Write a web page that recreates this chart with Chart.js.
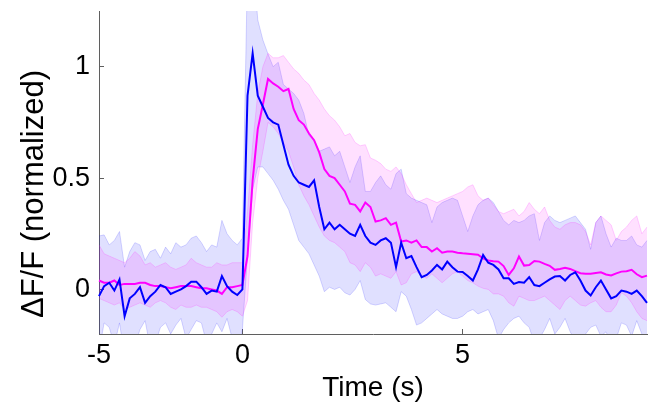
<!DOCTYPE html>
<html>
<head>
<meta charset="utf-8">
<title>Respuesta ΔF/F</title>
<script src="https://cdn.jsdelivr.net/npm/chart.js@4.4.0/dist/chart.umd.min.js"></script>
<style>
  html, body { margin: 0; padding: 0; background: #fff; }
  #contenedor { width: 651px; height: 412px; }
</style>
</head>
<body>
<div id="contenedor"><canvas id="grafico" width="651" height="412"></canvas></div>
<script>
// Muestreo: 28 cuadros en los 5 s previos al estímulo, 43 cuadros cada 5 s después
const preSeg = 5;
const preCuadros = 28;
const postCuadros = 80;
const postCuadrosPor5s = 43;

const xTicks = [-5, 0, 5];
const yTicks = [0, 0.5, 1];

// Promedio y banda (superior / inferior) de cada grupo
const azulMedia = [
  -0.03, 0.015, 0.03, -0.005, 0.045, -0.12, -0.04, -0.02, 0.01, -0.06,
  -0.03, -0.01, 0.02, 0.01, -0.02, -0.01, 0.0, 0.015, 0.035, 0.035,
  0.01, -0.02, -0.005, -0.01, 0.06, 0.015, -0.01, -0.025, 0.0, 0.87,
  1.06, 0.87, 0.82, 0.77, 0.75, 0.74, 0.65, 0.56, 0.51, 0.48,
  0.47, 0.46, 0.49, 0.37, 0.27, 0.30, 0.27, 0.29, 0.27, 0.25,
  0.24, 0.29, 0.24, 0.21, 0.20, 0.22, 0.23, 0.21, 0.10, 0.21,
  0.14, 0.15, 0.10, 0.055, 0.065, 0.085, 0.11, 0.09, 0.125, 0.10,
  0.08, 0.078, 0.06, 0.04, 0.09, 0.155, 0.12, 0.11, 0.09, 0.05,
  0.05, 0.025, 0.033, 0.03, 0.055, 0.02, 0.015, 0.03, 0.045, 0.058,
  0.06, 0.04, 0.065, 0.077, 0.04, -0.005, -0.027, 0.01, 0.04, 0.0,
  -0.04, -0.03, -0.005, -0.01, -0.02, -0.005, -0.03, -0.06
];
const azulSup = [
  0.24, 0.245, 0.20, 0.22, 0.26, 0.10, 0.17, 0.21, 0.20, 0.13,
  0.17, 0.18, 0.14, 0.19, 0.16, 0.21, 0.19, 0.20, 0.23, 0.24,
  0.21, 0.17, 0.20, 0.19, 0.31, 0.25, 0.22, 0.20, 0.23, 1.45,
  1.5, 1.21, 1.12, 1.057, 1.0, 1.02, 0.92, 0.90, 0.88, 0.85,
  0.79, 0.69, 0.67, 0.62, 0.63, 0.64, 0.60, 0.62, 0.55, 0.48,
  0.55, 0.60, 0.44, 0.44, 0.48, 0.51, 0.47, 0.45, 0.52, 0.54,
  0.43, 0.41, 0.40, 0.39, 0.38, 0.30, 0.37, 0.39, 0.40, 0.41,
  0.40, 0.33, 0.26, 0.33, 0.38, 0.40, 0.41, 0.39, 0.35, 0.31,
  0.29, 0.31, 0.30, 0.31, 0.33, 0.34, 0.22, 0.30, 0.33, 0.31,
  0.30, 0.31, 0.32, 0.33, 0.30, 0.27, 0.18, 0.30, 0.33, 0.25,
  0.19, 0.23, 0.22, 0.22, 0.24, 0.20, 0.19, 0.22
];
const azulInf = [
  -0.28, -0.15, -0.17, -0.25, -0.15, -0.30, -0.32, -0.25, -0.18, -0.14,
  -0.26, -0.24, -0.17, -0.15, -0.20, -0.16, -0.13, -0.22, -0.18, -0.14,
  -0.15, -0.24, -0.20, -0.15, -0.19, -0.13, -0.22, -0.30, -0.18, 0.15,
  0.45, 0.55, 0.55, 0.52, 0.49, 0.45, 0.40, 0.36, 0.29, 0.22,
  0.19, 0.16, 0.11, 0.06, -0.01, 0.01, 0.0, 0.01, -0.015, -0.025,
  0.0, 0.04, -0.045, -0.065, -0.07, -0.065, -0.06, -0.08, -0.10, -0.01,
  -0.03, -0.09, -0.16, -0.15, -0.13, -0.11, -0.09, -0.11, -0.12, -0.13,
  -0.13, -0.12, -0.10, -0.09, -0.11, -0.10, -0.09, -0.14, -0.22, -0.18,
  -0.15, -0.13, -0.12, -0.15, -0.17, -0.24, -0.22, -0.18, -0.13, -0.20,
  -0.17, -0.13, -0.19, -0.23, -0.26, -0.20, -0.17, -0.16, -0.21, -0.19,
  -0.24, -0.22, -0.15, -0.16, -0.21, -0.14, -0.20, -0.23
];
const magentaMedia = [
  0.04, 0.03, 0.03, 0.04, 0.02, 0.025, 0.025, 0.025, 0.03, 0.03,
  0.02, 0.015, 0.015, 0.01, 0.005, 0.01, 0.015, 0.015, 0.015, 0.01,
  0.005, 0.005, 0.0, -0.005, -0.02, 0.01, 0.01, 0.015, 0.02, 0.15,
  0.49, 0.72, 0.83, 0.945, 0.925, 0.91, 0.89, 0.90, 0.81, 0.76,
  0.74, 0.70, 0.67, 0.615, 0.54, 0.51, 0.50, 0.47, 0.44, 0.385,
  0.38, 0.35, 0.39, 0.37, 0.305, 0.31, 0.32, 0.29, 0.30, 0.215,
  0.22, 0.21, 0.22, 0.19, 0.19, 0.17, 0.185, 0.165, 0.17, 0.17,
  0.165, 0.162, 0.16, 0.158, 0.156, 0.14, 0.13, 0.127, 0.125, 0.105,
  0.065, 0.095, 0.148, 0.107, 0.11, 0.128, 0.125, 0.115, 0.106, 0.088,
  0.092, 0.097, 0.092, 0.082, 0.073, 0.071, 0.071, 0.074, 0.077, 0.067,
  0.063, 0.072, 0.08, 0.082, 0.088, 0.068, 0.055, 0.062
];
const magentaSup = [
  0.20, 0.16, 0.15, 0.14, 0.13, 0.12, 0.14, 0.17, 0.15, 0.11,
  0.12, 0.10, 0.11, 0.12, 0.10, 0.09, 0.10, 0.11, 0.14, 0.12,
  0.11, 0.10, 0.10, 0.12, 0.11, 0.11, 0.12, 0.12, 0.12, 0.35,
  0.65, 0.88, 1.0, 1.06, 1.04, 1.04, 1.05, 1.02, 0.99, 0.97,
  0.94, 0.92, 0.88, 0.85, 0.81, 0.78, 0.76, 0.73, 0.69, 0.70,
  0.66, 0.645, 0.65, 0.59, 0.58, 0.565, 0.54, 0.53, 0.55, 0.52,
  0.47, 0.43, 0.39, 0.40, 0.41, 0.40, 0.39, 0.40, 0.41, 0.42,
  0.43, 0.44, 0.46, 0.47, 0.42, 0.40, 0.41, 0.38, 0.35, 0.34,
  0.35, 0.36, 0.33, 0.35, 0.39, 0.36, 0.34, 0.37, 0.31, 0.28,
  0.27, 0.29, 0.30, 0.30, 0.29, 0.26, 0.20, 0.30, 0.33, 0.31,
  0.29, 0.22, 0.26, 0.28, 0.31, 0.33, 0.25, 0.28
];
const magentaInf = [
  -0.04, -0.05, -0.06, -0.07, -0.06, -0.09, -0.08, -0.07, -0.06, -0.07,
  -0.08, -0.06, -0.05, -0.06, -0.08, -0.09, -0.07, -0.08, -0.08, -0.07,
  -0.08, -0.08, -0.09, -0.10, -0.125, -0.10, -0.09, -0.10, -0.12, -0.05,
  0.30, 0.50, 0.62, 0.75, 0.73, 0.70, 0.66, 0.62, 0.55, 0.47,
  0.42, 0.38, 0.33, 0.28, 0.24, 0.22, 0.21, 0.19, 0.17, 0.12,
  0.11, 0.08, 0.12, 0.10, 0.06, 0.07, 0.06, 0.05, 0.08, 0.02,
  0.03, 0.07, 0.08, 0.06, 0.05, 0.07, 0.05, 0.03, 0.05, 0.07,
  0.08, 0.06, 0.04, 0.03, 0.015, 0.005, 0.0, -0.02, -0.02, -0.03,
  -0.06, -0.075, -0.03, -0.04, -0.05, -0.05, -0.04, -0.03, -0.05, -0.07,
  -0.09, -0.05, -0.03, -0.05, -0.07, -0.075, -0.06, -0.05, -0.08, -0.10,
  -0.10, -0.07, -0.015, -0.03, -0.06, -0.10, -0.13, -0.14
];

// Tiempo (s) de cada cuadro
const tiempos = [];
for (let i = 0; i < preCuadros; i++) {
  tiempos.push(Math.round((-preSeg + (i * preSeg) / preCuadros) * 1000) / 1000);
}
for (let j = 0; j < postCuadros; j++) {
  tiempos.push(Math.round(((j * 5) / postCuadrosPor5s) * 1000) / 1000);
}

const fuente = "'Liberation Sans', Arial, Helvetica, sans-serif";
const colorEje = '#5f5f5f';

function linea(datos, color) {
  return {
    data: datos,
    borderColor: color,
    borderWidth: 2,
    pointRadius: 0,
    tension: 0,
    fill: false
  };
}

function borde(datos, colorBorde, relleno) {
  return {
    data: datos,
    borderColor: colorBorde,
    borderWidth: 1,
    pointRadius: 0,
    tension: 0,
    backgroundColor: relleno,
    fill: relleno ? '+1' : false
  };
}

// Título del eje Y dibujado a mano para poder bajarlo un poco
const tituloY = {
  id: 'tituloY',
  afterDraw(chart) {
    const ctx = chart.ctx;
    const area = chart.chartArea;
    ctx.save();
    ctx.translate(34, area.bottom - 140);
    ctx.rotate(-Math.PI / 2);
    ctx.font = '31px ' + fuente;
    ctx.fillStyle = '#000';
    ctx.textAlign = 'center';
    ctx.textBaseline = 'middle';
    ctx.fillText('ΔF/F (normalized)', 0, 0);
    ctx.restore();
  }
};

const ctx = document.getElementById('grafico').getContext('2d');
new Chart(ctx, {
  type: 'line',
  data: {
    labels: tiempos,
    datasets: [
      linea(azulMedia, '#0000ff'),
      linea(magentaMedia, '#ff00ff'),
      borde(magentaSup, 'rgba(255,0,255,0.18)', 'rgba(255,0,255,0.12)'),
      borde(magentaInf, 'rgba(255,0,255,0.18)', null),
      borde(azulSup, 'rgba(0,0,255,0.16)', 'rgba(0,0,255,0.12)'),
      borde(azulInf, 'rgba(0,0,255,0.16)', null)
    ]
  },
  options: {
    responsive: false,
    animation: false,
    layout: { padding: { top: 11, right: 4, left: 0, bottom: 0 } },
    plugins: {
      legend: { display: false },
      tooltip: { enabled: false }
    },
    scales: {
      x: {
        type: 'category',
        offset: false,
        grid: { drawOnChartArea: false, drawTicks: true, tickLength: -5, color: colorEje },
        border: { display: true, color: colorEje, width: 1 },
        ticks: {
          autoSkip: false,
          maxRotation: 0,
          padding: 10,
          color: '#000',
          font: { family: fuente, size: 27 },
          callback: function(valor, indice) {
            const t = tiempos[indice];
            return xTicks.includes(t) ? String(t) : null;
          }
        },
        title: {
          display: true,
          text: 'Time (s)',
          color: '#000',
          font: { family: fuente, size: 28 },
          padding: { top: 0, bottom: 7 }
        },
        afterFit: function(escala) {
          escala.height = 78;
          escala.paddingLeft = 0;
          escala.paddingRight = 0;
        }
      },
      y: {
        min: -0.2,
        max: 1.25,
        afterBuildTicks: function(escala) {
          escala.ticks = yTicks.map(v => ({ value: v }));
        },
        grid: { drawOnChartArea: false, drawTicks: true, tickLength: -5, color: colorEje },
        border: { display: true, color: colorEje, width: 1 },
        ticks: {
          padding: 14,
          color: '#000',
          font: { family: fuente, size: 27 },
          callback: function(valor) { return String(valor); }
        },
        afterFit: function(escala) {
          escala.width = 99;
          escala.paddingTop = 0;
          escala.paddingBottom = 0;
        }
      }
    }
  },
  plugins: [tituloY]
});
</script>
</body>
</html>
